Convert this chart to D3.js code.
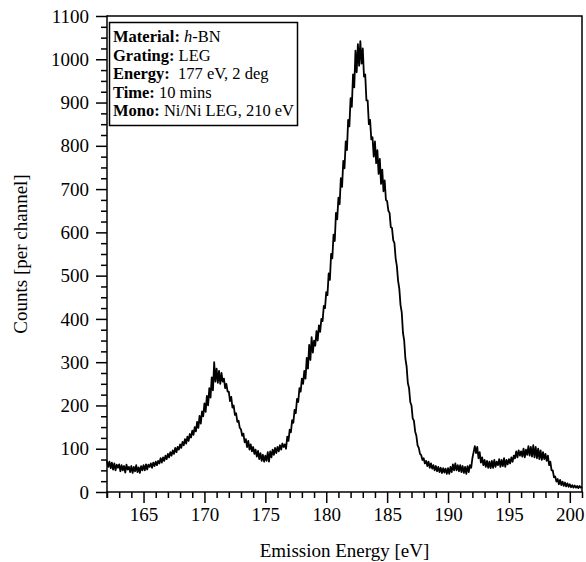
<!DOCTYPE html>
<html>
<head>
<meta charset="utf-8">
<script src="https://cdn.jsdelivr.net/npm/d3@7"></script>
<style>
html,body{margin:0;padding:0;background:#fff;}
svg{display:block;}
text{font-family:"Liberation Serif","Times New Roman",serif;fill:#000;}
</style>
</head>
<body>
<svg id="chart" width="586" height="562"></svg>
<script>
// Spectrum: channel energies start at 162.0 eV with 0.1 eV step; counts
const energyStart = 162.0;
const energyStep = 0.1;
const counts = [
  72, 58, 70, 55, 68, 52, 66, 50, 63, 56,            // 162
  64, 48, 62, 50, 60, 45, 63, 52, 58, 46,            // 163
  60, 44, 58, 48, 62, 46, 57, 44, 60, 50,            // 164
  62, 50, 64, 52, 63, 58, 66, 56, 68, 60,            // 165
  70, 62, 72, 66, 78, 68, 80, 72, 84, 76,            // 166
  88, 80, 92, 84, 96, 88, 102, 92, 104, 98,          // 167
  110, 102, 116, 108, 122, 112, 128, 118, 134, 126,  // 168
  142, 132, 150, 140, 162, 148, 176, 158, 186, 175,  // 169
  205, 185, 222, 200, 240, 218, 265, 235, 300, 255,  // 170
  285, 252, 280, 250, 275, 255, 262, 240, 250, 232,  // 171
  232, 210, 220, 195, 200, 178, 182, 162, 165, 148,  // 172
  145, 130, 135, 115, 122, 104, 118, 98, 110, 94,    // 173
  104, 88, 98, 82, 95, 76, 90, 72, 86, 70,           // 174
  84, 72, 92, 70, 94, 80, 98, 86, 102, 90,           // 175
  104, 94, 108, 98, 112, 104, 110, 100, 128, 118,    // 176
  144, 138, 166, 160, 190, 182, 215, 208, 240, 232,  // 177
  262, 250, 280, 262, 310, 285, 340, 305, 358, 322,  // 178
  350, 338, 372, 350, 385, 370, 400, 395, 430, 425,  // 179
  462, 455, 505, 490, 550, 540, 595, 580, 645, 630,  // 180
  680, 665, 725, 705, 765, 748, 810, 790, 860, 845,  // 181
  910, 890, 965, 935, 1020, 970, 1035, 985, 1042, 990, // 182
  1025, 960, 965, 905, 905, 850, 860, 815, 820, 775, // 183
  810, 760, 790, 735, 770, 712, 745, 695, 720, 675,  // 184
  672, 650, 645, 612, 610, 582, 575, 540, 522, 488,  // 185
  470, 432, 415, 368, 350, 308, 290, 252, 240, 208,  // 186
  200, 170, 165, 140, 130, 108, 102, 88, 85, 74,     // 187
  78, 66, 72, 60, 70, 56, 66, 54, 62, 50,            // 188
  60, 48, 58, 46, 56, 44, 55, 45, 54, 42,            // 189
  55, 42, 58, 46, 64, 50, 66, 50, 62, 48,            // 190
  62, 46, 60, 44, 58, 42, 60, 46, 62, 56,            // 191
  78, 92, 106, 90, 104, 78, 92, 68, 80, 62,          // 192
  74, 58, 72, 56, 70, 55, 72, 56, 74, 58,            // 193
  70, 62, 76, 58, 74, 60, 78, 58, 74, 64,            // 194
  76, 66, 80, 70, 84, 78, 94, 80, 96, 84,            // 195
  94, 82, 100, 80, 98, 86, 106, 84, 104, 82,         // 196
  108, 80, 104, 78, 100, 76, 96, 74, 92, 76,         // 197
  88, 72, 84, 62, 70, 50, 50, 34, 36, 24,            // 198
  30, 18, 28, 16, 24, 14, 22, 13, 20, 12,            // 199
  18, 11, 16, 10, 15, 10, 14, 9, 14, 10,             // 200
  12                                                 // 201
];

const xDomain = [162, 201];
const yDomain = [0, 1100];
const xMajorTicks = [165, 170, 175, 180, 185, 190, 195, 200];
const yMajorTicks = [0, 100, 200, 300, 400, 500, 600, 700, 800, 900, 1000, 1100];
const xLabel = "Emission Energy [eV]";
const yLabel = "Counts [per channel]";
const infoLines = [
  {bold: "Material:", rest: [" ", {italic: "h"}, "-BN"]},
  {bold: "Grating:", rest: [" LEG"]},
  {bold: "Energy:", rest: ["  177 eV, 2 deg"]},
  {bold: "Time:", rest: [" 10 mins"]},
  {bold: "Mono:", rest: [" Ni/Ni LEG, 210 eV"]}
];

const data = counts.map((c, i) => ({e: energyStart + i * energyStep, c}));

const svg = d3.select("#chart");
const L = 107, R = 582, T = 16, B = 492;
const x = d3.scaleLinear().domain(xDomain).range([L, R]);
const y = d3.scaleLinear().domain(yDomain).range([B, T]);

// frame (top and right)
svg.append("path")
  .attr("d", `M${L},${T}H${R}V${B}`)
  .attr("fill", "none").attr("stroke", "#000").attr("stroke-width", 1.5);

// x axis
const xMinor = d3.range(162, 202, 1).filter(v => !xMajorTicks.includes(v));
const gx = svg.append("g").attr("transform", `translate(0,${B})`);
gx.call(d3.axisBottom(x).tickValues(xMinor).tickSize(6).tickFormat(""))
  .call(g => g.select(".domain").remove());
gx.append("g").call(d3.axisBottom(x).tickValues(xMajorTicks).tickSize(11).tickPadding(5).tickFormat(d3.format("d")))
  .call(g => g.select(".domain").remove());
gx.selectAll("line").attr("stroke", "#000").attr("stroke-width", 1.5);
gx.selectAll("text").attr("font-size", 19).attr("font-family", "Liberation Serif");
svg.append("line").attr("x1", L - 0.75).attr("x2", R + 0.75).attr("y1", B).attr("y2", B)
  .attr("stroke", "#000").attr("stroke-width", 1.5);

// y axis
const yMinor = d3.range(0, 1101, 25).filter(v => !yMajorTicks.includes(v));
const gy = svg.append("g").attr("transform", `translate(${L},0)`);
gy.call(d3.axisLeft(y).tickValues(yMinor).tickSize(6).tickFormat(""))
  .call(g => g.select(".domain").remove());
gy.append("g").call(d3.axisLeft(y).tickValues(yMajorTicks).tickSize(11).tickPadding(7).tickFormat(d3.format("d")))
  .call(g => g.select(".domain").remove());
gy.selectAll("line").attr("stroke", "#000").attr("stroke-width", 1.5);
gy.selectAll("text").attr("font-size", 19).attr("font-family", "Liberation Serif");
svg.append("line").attr("x1", L).attr("x2", L).attr("y1", T - 0.75).attr("y2", B + 6)
  .attr("stroke", "#000").attr("stroke-width", 1.5);

// spectrum
const line = d3.line().x(d => x(d.e)).y(d => y(d.c));
svg.append("path").datum(data)
  .attr("d", line)
  .attr("fill", "none").attr("stroke", "#000").attr("stroke-width", 1.8)
  .attr("stroke-linejoin", "round");

// axis titles
svg.append("text").attr("x", (L + R) / 2).attr("y", 557)
  .attr("text-anchor", "middle").attr("font-size", 19).text(xLabel);
svg.append("text").attr("transform", `translate(27,${(T + B) / 2}) rotate(-90)`)
  .attr("text-anchor", "middle").attr("font-size", 19).text(yLabel);

// info box
svg.append("rect").attr("x", 109.5).attr("y", 22.5).attr("width", 188).attr("height", 103)
  .attr("fill", "#fff").attr("stroke", "#000").attr("stroke-width", 1.5);
const info = svg.append("g");
infoLines.forEach((ln, i) => {
  const t = info.append("text").attr("x", 113).attr("y", 42 + i * 18.6)
    .attr("font-size", 16.5).style("white-space", "pre");
  t.append("tspan").attr("font-weight", "bold").text(ln.bold);
  ln.rest.forEach(r => {
    if (typeof r === "string") t.append("tspan").text(r);
    else t.append("tspan").attr("font-style", "italic").text(r.italic);
  });
});
</script>
</body>
</html>
